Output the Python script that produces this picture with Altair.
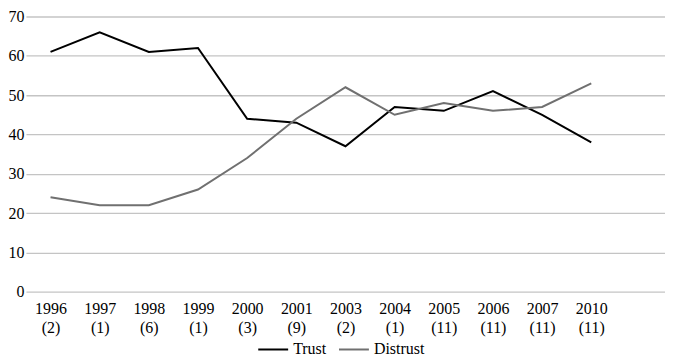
import altair as alt
import pandas as pd

categories = ["1996 (2)", "1997 (1)", "1998 (6)", "1999 (1)", "2000 (3)", "2001 (9)",
              "2003 (2)", "2004 (1)", "2005 (11)", "2006 (11)", "2007 (11)", "2010 (11)"]
trust = [61, 66, 61, 62, 44, 43, 37, 47, 46, 51, 45, 38]
distrust = [24, 22, 22, 26, 34, 44, 52, 45, 48, 46, 47, 53]
series_names = ["Trust", "Distrust"]
series_colors = ["#000000", "#707070"]

domain = categories + ["blank"]

rows = []
for c, t, d in zip(categories, trust, distrust):
    rows.append({"cat": c, "value": t, "series": "Trust"})
    rows.append({"cat": c, "value": d, "series": "Distrust"})
df = pd.DataFrame(rows)

FONT = "Liberation Serif"
FS = 16

chart = alt.Chart(df).mark_line(strokeWidth=2).encode(
    x=alt.X("cat:N", sort=domain,
            scale=alt.Scale(type="point", domain=domain, padding=0.5),
            axis=alt.Axis(title=None, labelAngle=0, domain=False, ticks=False, grid=False,
                          labelExpr="datum.label == 'blank' ? '' : split(datum.label, ' ')",
                          labelPadding=9, labelLineHeight=19, labelBaseline="top",
                          labelFontSize=FS, labelFont=FONT, labelColor="#000000",
                          labelOverlap=False)),
    y=alt.Y("value:Q", scale=alt.Scale(domain=[0, 70]),
            axis=alt.Axis(values=list(range(0, 71, 10)), title=None, domain=False, ticks=False,
                          gridColor="#c4c4c4", gridWidth=1.3, labelPadding=2,
                          labelFontSize=FS, labelFont=FONT, labelColor="#000000")),
    color=alt.Color("series:N",
                    scale=alt.Scale(domain=series_names, range=series_colors),
                    legend=alt.Legend(title=None, orient="none", legendX=232, legendY=318,
                                      direction="horizontal", symbolType="stroke",
                                      symbolSize=900, symbolStrokeWidth=2,
                                      labelFontSize=FS, labelFont=FONT, labelColor="#000000",
                                      columnPadding=8, labelOffset=4)),
).properties(
    width=641, height=276,
    padding={"left": 0, "top": 0, "right": 0, "bottom": 0},
).configure_view(stroke=None)

chart.save("out.html", embed_options={"renderer": "svg", "actions": False})
